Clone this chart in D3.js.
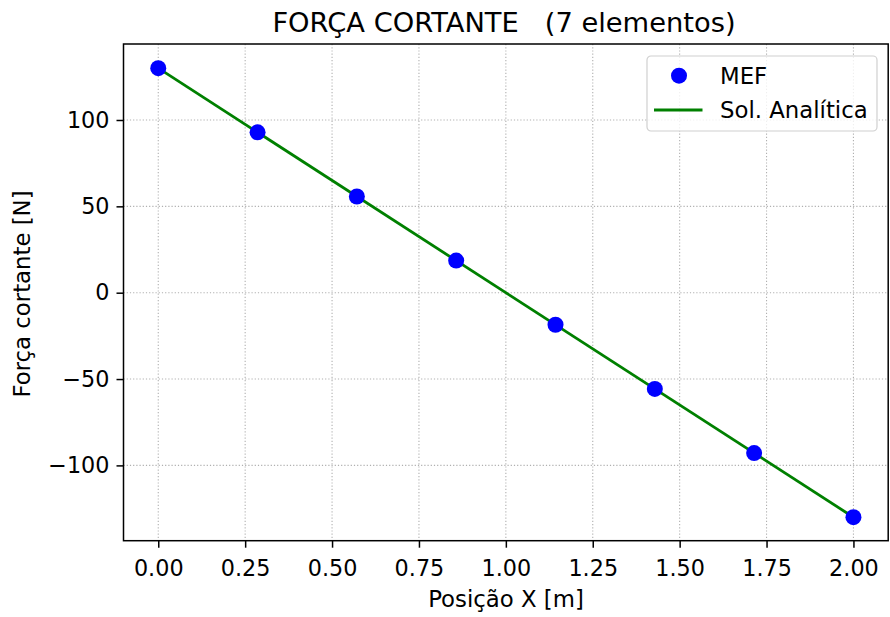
<!DOCTYPE html>
<html>
<head>
  <script src="https://d3js.org/d3.v7.min.js"></script>
  <style>
  body { margin: 0; background: white; }
  svg { font-family: "DejaVu Sans", sans-serif; }
  </style>
</head>
<body>
<svg id="chart" width="890" height="617"></svg>
<script>
// MEF nodes (7 elements -> 8 nodes)
var nodeX = [0, 0.2857, 0.5714, 0.8571, 1.1429, 1.4286, 1.7143, 2.0];
var nodeV = [130, 92.86, 55.71, 18.57, -18.57, -55.71, -92.86, -130];
// analytic solution, endpoints of the straight line
var solX = [0, 2.0];
var solV = [130, -130];
var xTicks = [0, 0.25, 0.5, 0.75, 1.0, 1.25, 1.5, 1.75, 2.0];
var yTicks = [-100, -50, 0, 50, 100];

var margin = {top: 44, right: 1.8, bottom: 76.3, left: 123.5};
var width = 890 - margin.left - margin.right,
    height = 617 - margin.top - margin.bottom;

var svg = d3.select("#chart");
var g = svg.append("g")
  .attr("transform", "translate(" + margin.left + "," + margin.top + ")");

var xs = d3.scaleLinear().domain([-0.1, 2.1]).range([0, width]);
var ys = d3.scaleLinear().domain([-143.6, 144]).range([height, 0]);

// grid
g.append("g").selectAll("line").data(xTicks).enter().append("line")
  .attr("x1", function(d){ return xs(d); }).attr("x2", function(d){ return xs(d); })
  .attr("y1", 0).attr("y2", height)
  .attr("stroke", "#b0b0b0").attr("stroke-width", 1.1).attr("stroke-dasharray", "1.2,2");
g.append("g").selectAll("line").data(yTicks).enter().append("line")
  .attr("y1", function(d){ return ys(d); }).attr("y2", function(d){ return ys(d); })
  .attr("x1", 0).attr("x2", width)
  .attr("stroke", "#b0b0b0").attr("stroke-width", 1.1).attr("stroke-dasharray", "1.2,2");

// analytic line
var line = d3.line().x(function(d){ return xs(d[0]); }).y(function(d){ return ys(d[1]); });
g.append("path")
  .datum(d3.zip(solX, solV))
  .attr("d", line)
  .attr("fill", "none")
  .attr("stroke", "#008000")
  .attr("stroke-width", 2.8);

// MEF points
g.append("g").selectAll("circle").data(d3.zip(nodeX, nodeV)).enter().append("circle")
  .attr("cx", function(d){ return xs(d[0]); })
  .attr("cy", function(d){ return ys(d[1]); })
  .attr("r", 8)
  .attr("fill", "#0000ff");

// axes
var xAxis = g.append("g")
  .attr("transform", "translate(0," + height + ")")
  .call(d3.axisBottom(xs).tickValues(xTicks).tickFormat(d3.format(".2f")).tickSizeOuter(0).tickSize(7).tickPadding(5));
var yAxis = g.append("g")
  .call(d3.axisLeft(ys).tickValues(yTicks).tickFormat(function(d){ return d < 0 ? "\u2212" + Math.abs(d) : d; }).tickSizeOuter(0).tickSize(7).tickPadding(5));
[xAxis, yAxis].forEach(function(a){
  a.select(".domain").remove();
  a.attr("font-size", null).attr("font-family", null);
  a.selectAll("text").attr("font-size", 22.3).attr("fill", "#000");
  a.selectAll(".tick line").attr("stroke", "#000").attr("stroke-width", 1.5);
});
xAxis.selectAll("text").attr("dy", null).attr("y", 35.5);
yAxis.selectAll("text").attr("x", -14);

// frame
g.append("rect")
  .attr("width", width).attr("height", height)
  .attr("fill", "none").attr("stroke", "#000").attr("stroke-width", 1.5);

// title and labels
svg.append("text")
  .attr("x", 504).attr("y", 31.5)
  .attr("text-anchor", "middle").attr("font-size", 27.3)
  .attr("xml:space", "preserve")
  .text("FORÇA CORTANTE   (7 elementos)");
svg.append("text")
  .attr("x", 506).attr("y", 606.5)
  .attr("text-anchor", "middle").attr("font-size", 22.8)
  .text("Posição X [m]");
svg.append("text")
  .attr("transform", "translate(29.5,294) rotate(-90)")
  .attr("text-anchor", "middle").attr("font-size", 22.8)
  .text("Força cortante [N]");

// legend
var leg = svg.append("g").attr("transform", "translate(647,56)");
leg.append("rect")
  .attr("width", 230).attr("height", 75).attr("rx", 4)
  .attr("fill", "white").attr("fill-opacity", 0.8)
  .attr("stroke", "#d0d0d0").attr("stroke-width", 1.2);
leg.append("circle").attr("cx", 32).attr("cy", 19.7).attr("r", 8).attr("fill", "#0000ff");
leg.append("line").attr("x1", 7).attr("x2", 55.5).attr("y1", 54).attr("y2", 54)
  .attr("stroke", "#008000").attr("stroke-width", 2.8);
leg.append("text").attr("x", 73).attr("y", 27.5).attr("font-size", 22.8).text("MEF");
leg.append("text").attr("x", 73).attr("y", 61.5).attr("font-size", 22.8).text("Sol. Analítica");
</script>
</body>
</html>
